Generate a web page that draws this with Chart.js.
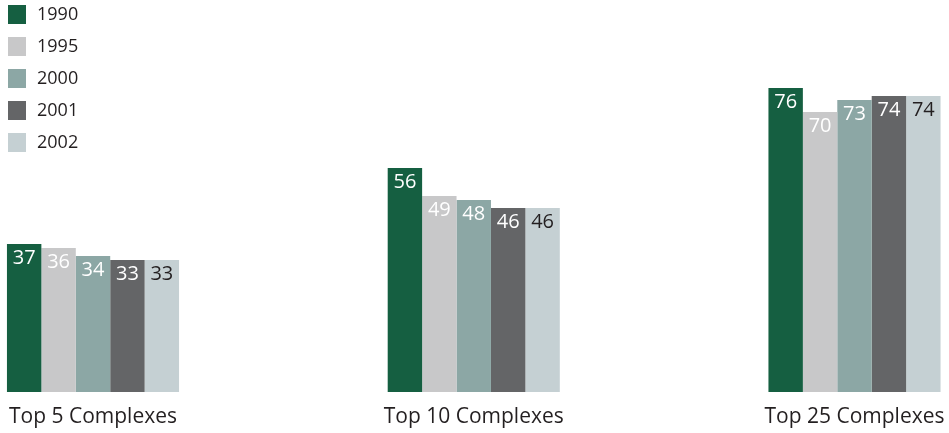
<!DOCTYPE html>
<html>
<head>
<meta charset="utf-8">
<script src="https://cdn.jsdelivr.net/npm/chart.js@4"></script>
<style>
  html, body { margin: 0; padding: 0; background: #ffffff; }
  #wrap { width: 949px; height: 433px; position: relative; }
</style>
</head>
<body>
<div id="wrap"><canvas id="chart"></canvas></div>
<script>
const categories = ['Top 5 Complexes', 'Top 10 Complexes', 'Top 25 Complexes'];
const years = ['1990', '1995', '2000', '2001', '2002'];
const values1990 = [37, 56, 76];
const values1995 = [36, 49, 70];
const values2000 = [34, 48, 73];
const values2001 = [33, 46, 74];
const values2002 = [33, 46, 74];

const barColors = ['#155f41', '#c8c8c9', '#8ca7a5', '#646567', '#c5d0d3'];
const labelColors = ['#ffffff', '#ffffff', '#ffffff', '#ffffff', '#231f20'];
const seriesValues = [values1990, values1995, values2000, values2001, values2002];

const FONT = "'Open Sans', 'Noto Sans', sans-serif";

// value printed inside the top of each bar
const valueLabels = {
    id: 'valueLabels',
    afterDatasetsDraw(chart) {
        const ctx = chart.ctx;
        ctx.save();
        ctx.font = `20px ${FONT}`;
        ctx.textAlign = 'center';
        ctx.textBaseline = 'middle';
        chart.data.datasets.forEach((ds, i) => {
            chart.getDatasetMeta(i).data.forEach((bar, j) => {
                ctx.fillStyle = labelColors[i];
                ctx.fillText(ds.data[j], bar.x, bar.y + 14);
            });
        });
        ctx.restore();
    }
};

const ctx = document.getElementById('chart').getContext('2d');
const chart = new Chart(ctx, {
    type: 'bar',
    data: {
        labels: categories,
        datasets: years.map((y, i) => ({
            label: y,
            data: seriesValues[i],
            backgroundColor: barColors[i],
            borderWidth: 0,
            clip: false,
            categoryPercentage: 0.452,
            barPercentage: 1.0
        }))
    },
    options: {
        responsive: true,
        maintainAspectRatio: false,
        animation: false,
        layout: {
            padding: { top: -6, left: -3, right: 94.5, bottom: 0 }
        },
        scales: {
            x: {
                offset: false,
                grid: { display: false, drawTicks: false },
                border: { display: false },
                ticks: {
                    color: '#231f20',
                    font: { family: FONT, size: 21 },
                    padding: 12.4,
                    autoSkip: false,
                    maxRotation: 0
                },
                afterFit(scale) {
                    scale.height = 41;
                    scale.paddingLeft = 0;
                    scale.paddingRight = 0;
                }
            },
            y: {
                min: 0,
                max: 98,
                grid: { display: false, drawTicks: false },
                border: { display: false },
                ticks: { display: false },
                afterFit(scale) {
                    const lg = scale.chart.legend;
                    const lw = lg ? lg.width : 0;
                    scale.width = Math.max(0, 96 - lw);
                }
            }
        },
        plugins: {
            legend: {
                position: 'left',
                align: 'start',
                labels: {
                    boxWidth: 22,
                    boxHeight: 23,
                    padding: 9,
                    color: '#231f20',
                    font: { family: FONT, size: 18 },
                    // white outline trims the box back to 18x19 and nudges the text right
                    generateLabels(chart) {
                        const items = Chart.defaults.plugins.legend.labels.generateLabels(chart);
                        return items.map(it => Object.assign(it, { lineWidth: 4, strokeStyle: '#ffffff' }));
                    }
                }
            },
            tooltip: { enabled: false }
        }
    },
    plugins: [valueLabels]
});
</script>
</body>
</html>
